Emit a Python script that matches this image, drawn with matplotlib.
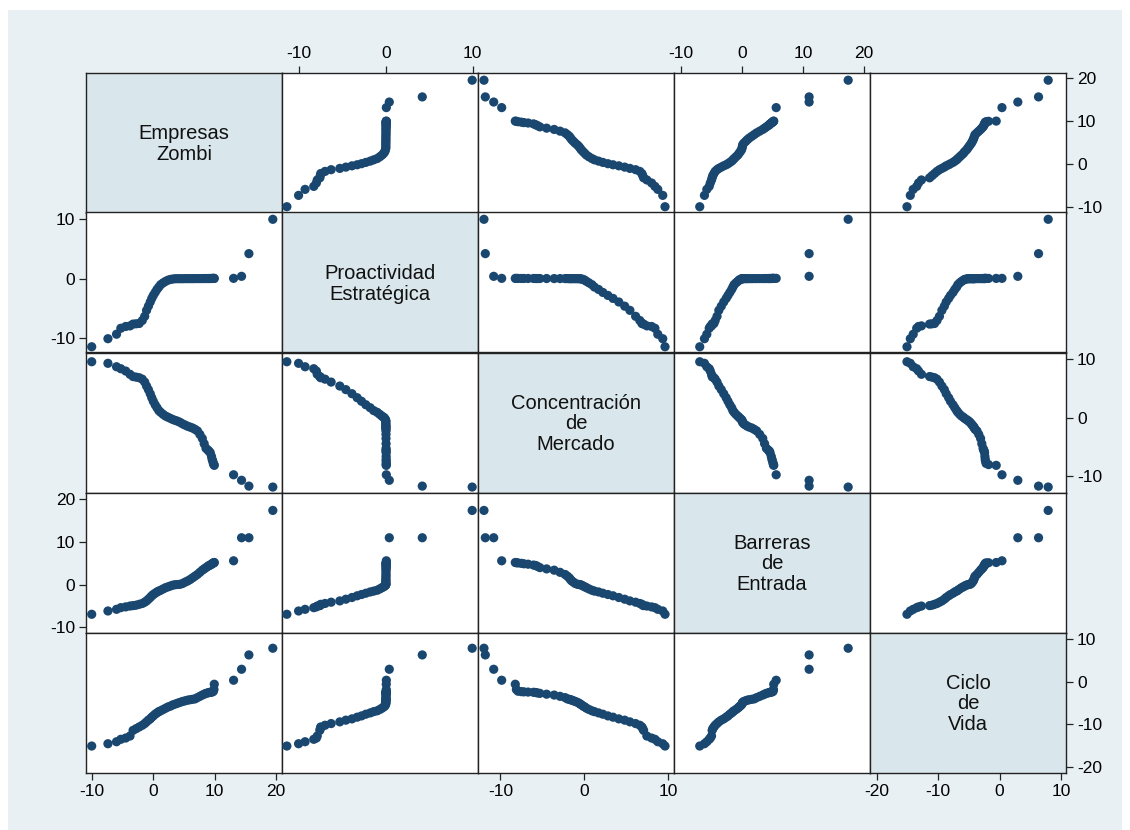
import matplotlib
matplotlib.use("Agg")
import matplotlib.pyplot as plt
from matplotlib.patches import Rectangle

plt.rcParams['font.family'] = ['Liberation Sans', 'DejaVu Sans']
plt.rcParams['axes.unicode_minus'] = False

# Variable names shown on the diagonal
labels = ["Empresas\nZombi", "Proactividad\nEstratégica", "Concentración\nde\nMercado",
          "Barreras\nde\nEntrada", "Ciclo\nde\nVida"]

# Observations (one entry per firm, ordered by Empresas Zombi)
zombi = [-10.05, -7.4, -6.0, -5.3, -4.5, -3.8, -3.3, -2.8, -2.3, -1.8, -1.4, -1.1, -0.8,
         -0.5, -0.25, 0.0, 0.3, 0.6, 0.9, 1.2, 1.6, 2.0, 2.4, 2.8, 3.2, 3.6, 4.0, 4.4,
         4.8, 5.2, 5.6, 6.0, 6.4, 6.8, 7.2, 7.6, 8.0, 8.3, 8.6, 8.9, 9.1, 9.3, 9.5, 9.6,
         9.7, 9.8, 9.9, 9.95, 13.1, 14.4, 15.6, 19.5]
proactividad = [-11.4, -10.05, -9.3, -8.3, -8.0, -7.9, -7.6, -7.55, -7.5, -7.0, -6.3, -5.3,
                -4.6, -3.9, -3.3, -2.8, -2.3, -1.8, -1.4, -1.0, -0.7, -0.45, -0.25, -0.12,
                -0.05, 0.0, 0.0, 0.0, 0.0, 0.01, 0.01, 0.01, 0.01, 0.02, 0.02, 0.02, 0.02,
                0.03, 0.03, 0.03, 0.03, 0.04, 0.04, 0.04, 0.04, 0.05, 0.05, 0.05, 0.06,
                0.4, 4.2, 9.95]
concentracion = [9.6, 9.33, 8.74, 8.4, 8.0, 7.44, 7.05, 6.95, 6.85, 6.6, 6.1, 5.42, 4.8,
                 4.1, 3.41, 2.8, 2.2, 1.69, 1.2, 0.9, 0.55, 0.25, 0.05, -0.15, -0.35, -0.5,
                 -0.65, -0.85, -1.1, -1.3, -1.5, -1.65, -1.8, -2.03, -2.3, -2.9, -3.6, -4.5,
                 -5.3, -5.6, -5.8, -6.06, -6.7, -7.2, -7.5, -7.9, -8.1, -8.23, -9.85, -10.8,
                 -11.8, -11.96]
barreras = [-6.93, -6.16, -5.77, -5.38, -5.2, -5.0, -4.9, -4.8, -4.6, -4.4, -4.1, -3.8,
            -3.4, -3.0, -2.6, -2.3, -2.0, -1.7, -1.5, -1.3, -1.0, -0.7, -0.5, -0.3, -0.1,
            0.0, 0.05, 0.1, 0.3, 0.6, 0.87, 1.2, 1.6, 2.0, 2.4, 2.9, 3.4, 3.7, 4.0, 4.3,
            4.5, 4.6, 4.8, 4.9, 5.0, 5.1, 5.15, 5.2, 5.6, 11.0, 11.0, 17.4]
ciclo = [-15.08, -14.54, -14.07, -13.5, -13.2, -12.73, -11.4, -11.0, -10.6, -10.2, -9.8,
         -9.4, -9.0, -8.7, -8.3, -8.0, -7.6, -7.3, -7.0, -6.8, -6.5, -6.2, -5.9, -5.7,
         -5.4, -5.2, -5.0, -4.8, -4.6, -4.45, -4.3, -4.2, -4.1, -4.0, -3.7, -3.4, -3.1,
         -2.9, -2.7, -2.6, -2.5, -2.45, -2.4, -2.35, -2.3, -2.2, -1.8, -0.56, 0.38,
         2.96, 6.33, 7.9]

series = [zombi, proactividad, concentracion, barreras, ciclo]

# Tick values for each variable
ticks = [[-10, 0, 10, 20], [-10, 0, 10], [-10, 0, 10], [-10, 0, 10, 20], [-20, -10, 0, 10]]

# Axis ranges: horizontal (columns) and vertical (rows)
xlims = [(-10.98, 21.0), (-11.96, 10.62), (-12.67, 10.67), (-11.15, 20.98), (-21.1, 10.8)]
ylims = [(-11.4, 21.3), (-12.36, 11.09), (-12.9, 11.19), (-11.2, 21.6), (-21.3, 11.6)]

W, H = 1130, 830
fig = plt.figure(figsize=(W / 100, H / 100), dpi=100)
fig.patch.set_facecolor("white")
bg = Rectangle((8 / W, 0), (W - 16) / W, (H - 10) / H, transform=fig.transFigure,
               facecolor="#e8f0f3", edgecolor="none", zorder=-10)
fig.add_artist(bg)

marker_color = "#1a476f"
diag_color = "#d9e6ec"
line_color = "#222222"
x0, y0, cw, rh = 86, 72.5, 196, 140
n = len(series)

for i in range(n):
    for j in range(n):
        left = x0 + j * cw
        top = y0 + i * rh
        ax = fig.add_axes([left / W, 1 - (top + rh) / H, cw / W, rh / H])
        ax.set_xlim(*xlims[j])
        ax.set_ylim(*ylims[i])
        for sp in ax.spines.values():
            sp.set_color(line_color)
            sp.set_linewidth(1.0)
        ax.tick_params(which="both", bottom=False, top=False, left=False, right=False,
                       labelbottom=False, labeltop=False, labelleft=False, labelright=False,
                       direction="out", length=5, width=0.9, color=line_color,
                       labelsize=12.5, pad=3)
        if i == j:
            ax.set_facecolor(diag_color)
            ax.text(0.5, 0.49, labels[i], transform=ax.transAxes, ha="center",
                    va="center", fontsize=14.5, linespacing=1.08, color="#111111")
        else:
            ax.set_facecolor("white")
            ax.scatter(series[j], series[i], s=44, color=marker_color,
                       edgecolors="none", zorder=3, clip_on=False)

        # Column axes alternate between bottom and top
        if i == n - 1 and j % 2 == 0:
            ax.set_xticks(ticks[j])
            ax.tick_params(bottom=True, labelbottom=True)
        elif i == 0 and j % 2 == 1:
            ax.set_xticks(ticks[j])
            ax.tick_params(top=True, labeltop=True)
        else:
            ax.set_xticks([])
        # Row axes alternate between right and left
        if j == n - 1 and i % 2 == 0:
            ax.set_yticks(ticks[i])
            ax.tick_params(right=True, labelright=True)
        elif j == 0 and i % 2 == 1:
            ax.set_yticks(ticks[i])
            ax.tick_params(left=True, labelleft=True)
        else:
            ax.set_yticks([])

fig.savefig("out.png", dpi=100)
